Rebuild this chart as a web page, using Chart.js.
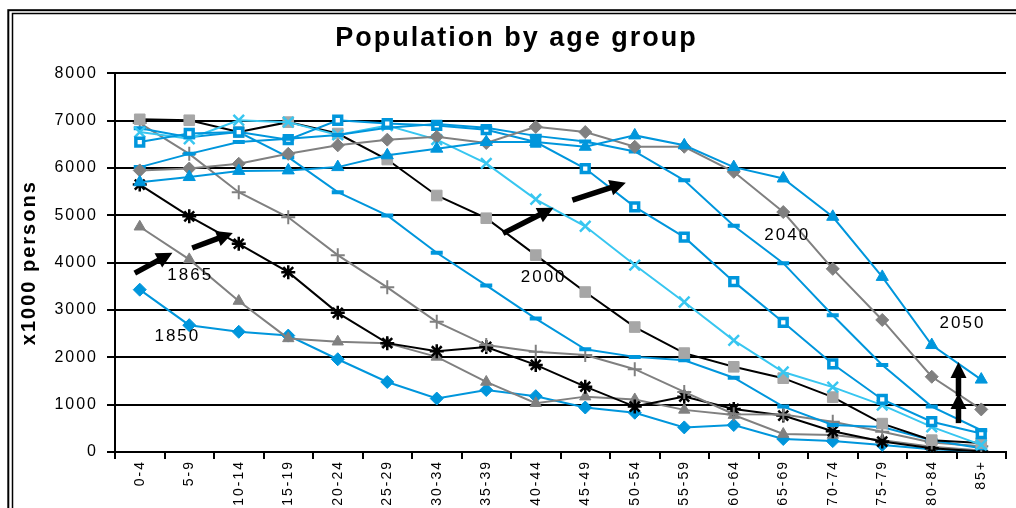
<!DOCTYPE html>
<html>
<head>
<meta charset="utf-8">
<script src="https://cdn.jsdelivr.net/npm/chart.js@4.4.1/dist/chart.umd.min.js"></script>
<style>
  html, body { margin: 0; padding: 0; background: #fff; }
  canvas { display: block; }
</style>
</head>
<body>
<canvas id="chart" width="1016" height="508"></canvas>
<script>
// Age groups on the horizontal axis
const ageGroups = ['0-4', '5-9', '10-14', '15-19', '20-24', '25-29', '30-34', '35-39', '40-44',
  '45-49', '50-54', '55-59', '60-64', '65-69', '70-74', '75-79', '80-84', '85+'];

// Population per age group, in thousands of persons
const pop1850 = [3430, 2680, 2540, 2460, 1960, 1480, 1130, 1310, 1180, 940, 830, 520, 570, 275, 230, 150, 60, 15];
const pop1865 = [4760, 4070, 3190, 2400, 2330, 2300, 2010, 1480, 1030, 1170, 1110, 890, 780, 380, 360, 250, 110, 30];
const pop1900 = [5650, 4980, 4400, 3800, 2940, 2300, 2130, 2220, 1840, 1380, 960, 1170, 910, 770, 440, 220, 80, 10];
const pop1950 = [6950, 6300, 5490, 4960, 4160, 3480, 2750, 2260, 2120, 2050, 1750, 1270, 800, 790, 640, 430, 200, 120];
const pop1975 = [6840, 6650, 6760, 6230, 5490, 5000, 4210, 3520, 2820, 2170, 2010, 1940, 1570, 960, 570, 530, 250, 80];
const pop2000 = [7030, 7010, 6760, 6970, 6730, 6180, 5420, 4940, 4160, 3380, 2640, 2090, 1800, 1560, 1160, 600, 250, 190];
const pop2010 = [6760, 6620, 7010, 6970, 6700, 6900, 6600, 6100, 5340, 4770, 3950, 3170, 2360, 1690, 1370, 990, 530, 150];
const pop2020 = [6550, 6730, 6760, 6600, 7010, 6940, 6900, 6810, 6550, 5990, 5180, 4540, 3600, 2740, 1860, 1110, 640, 390];
const pop2030 = [6020, 6300, 6550, 6620, 6700, 6850, 6930, 6850, 6680, 6560, 6350, 5740, 4780, 3990, 2890, 1840, 960, 460];
const pop2040 = [5950, 5990, 6090, 6300, 6480, 6600, 6660, 6530, 6870, 6760, 6450, 6450, 5920, 5070, 3870, 2790, 1590, 900];
const pop2050 = [5700, 5810, 5940, 5950, 6020, 6270, 6410, 6550, 6550, 6450, 6690, 6480, 6020, 5780, 4970, 3700, 2260, 1530];

// Value axis
const yMin = 0, yMax = 8000, yStep = 1000;

// Year labels written next to some curves: [text, age-group position, value]
const yearNotes = [
  ['1850', 0.76, 2450],
  ['1865', 1.02, 3740],
  ['2000', 8.16, 3690],
  ['2040', 13.08, 4580],
  ['2050', 16.62, 2720]
];

// Arrows showing the shift over time: [from position, from value, to position, to value]
const shiftArrows = [
  [-0.10, 3780, 0.66, 4210],
  [1.06, 4310, 1.88, 4630],
  [7.34, 4620, 8.36, 5160],
  [8.74, 5320, 9.82, 5690],
  [16.54, 610, 16.54, 1245],
  [16.54, 1180, 16.54, 1900]
];

const BLUE = '#0096dc';
const CYAN = '#38c6f0';
const GRAY = '#808080';
const LIGHT_GRAY = '#a6a6a6';
const BLACK = '#000000';

Chart.defaults.font.family = "'Liberation Sans', Arial, sans-serif";
Chart.defaults.color = '#000';

function line(label, data, color, style, extra) {
  return Object.assign({
    label: label,
    data: data,
    borderColor: color,
    backgroundColor: color,
    borderWidth: 2,
    tension: 0,
    pointStyle: style,
    pointRadius: 6,
    pointBorderWidth: 1,
    pointBorderColor: color,
    pointBackgroundColor: color
  }, extra || {});
}

const datasets = [
  line('1850', pop1850, BLUE, 'rectRot', { pointRadius: 6.5 }),
  line('1865', pop1865, GRAY, 'triangle', { pointRadius: 6.5 }),
  line('1900', pop1900, BLACK, 'star', { pointRadius: 7, pointBorderWidth: 2.5 }),
  line('1950', pop1950, GRAY, 'cross', { pointRadius: 7, pointBorderWidth: 2 }),
  line('1975', pop1975, BLUE, 'line', { pointRadius: 6, pointBorderWidth: 4 }),
  line('2000', pop2000, BLACK, 'rect', { pointRadius: 7.5, pointBorderColor: LIGHT_GRAY, pointBackgroundColor: LIGHT_GRAY }),
  line('2010', pop2010, CYAN, 'crossRot', { pointRadius: 7.5, pointBorderWidth: 2.5 }),
  line('2020', pop2020, BLUE, 'rect', { pointRadius: 5.5, pointBorderWidth: 3.5, pointBackgroundColor: '#ffffff' }),
  line('2030', pop2030, BLUE, 'line', { pointRadius: 6, pointBorderWidth: 4 }),
  line('2040', pop2040, GRAY, 'rectRot', { pointRadius: 6.5 }),
  line('2050', pop2050, BLUE, 'triangle', { pointRadius: 7 })
];
// later years are painted over earlier ones
datasets.forEach((d, i) => { d.order = datasets.length - i; });

// White page with the double frame; the text spacing is set for all drawn text
const framePlugin = {
  id: 'frame',
  beforeDraw(chart) {
    const ctx = chart.ctx;
    ctx.save();
    ctx.fillStyle = '#ffffff';
    ctx.fillRect(0, 0, chart.width, chart.height);
    ctx.strokeStyle = '#000';
    ctx.lineWidth = 2;
    ctx.strokeRect(8.3, 10.2, chart.width + 40, chart.height + 40);
    ctx.lineWidth = 1.5;
    ctx.strokeRect(12.5, 13.5, chart.width + 40, chart.height + 40);
    ctx.restore();
    ctx.letterSpacing = '2px';
  }
};

function drawArrow(ctx, x1, y1, x2, y2) {
  const ang = Math.atan2(y2 - y1, x2 - x1);
  const headLen = 16, headHalf = 8;
  const bx = x2 - headLen * Math.cos(ang);
  const by = y2 - headLen * Math.sin(ang);
  ctx.lineWidth = 5.5;
  ctx.lineCap = 'butt';
  ctx.beginPath();
  ctx.moveTo(x1, y1);
  ctx.lineTo(bx + 1 * Math.cos(ang), by + 1 * Math.sin(ang));
  ctx.stroke();
  ctx.beginPath();
  ctx.moveTo(x2, y2);
  ctx.lineTo(bx + headHalf * Math.sin(ang), by - headHalf * Math.cos(ang));
  ctx.lineTo(bx - headHalf * Math.sin(ang), by + headHalf * Math.cos(ang));
  ctx.closePath();
  ctx.fill();
}

// Year labels and shift arrows, placed through the chart scales
const notesPlugin = {
  id: 'notes',
  afterDatasetsDraw(chart) {
    const ctx = chart.ctx;
    const xs = chart.scales.x, ys = chart.scales.y;
    ctx.save();
    ctx.fillStyle = '#000';
    ctx.strokeStyle = '#000';
    shiftArrows.forEach(a => {
      drawArrow(ctx, xs.getPixelForValue(a[0]), ys.getPixelForValue(a[1]),
                     xs.getPixelForValue(a[2]), ys.getPixelForValue(a[3]));
    });
    ctx.font = "17px 'Liberation Sans', Arial, sans-serif";
    ctx.textAlign = 'center';
    ctx.textBaseline = 'middle';
    yearNotes.forEach(n => {
      ctx.fillText(n[0], xs.getPixelForValue(n[1]), ys.getPixelForValue(n[2]));
    });
    ctx.restore();
  }
};

new Chart(document.getElementById('chart'), {
  type: 'line',
  data: { labels: ageGroups, datasets: datasets },
  plugins: [framePlugin, notesPlugin],
  options: {
    responsive: false,
    animation: false,
    layout: { padding: { left: 20, right: 3, top: 0, bottom: 0 } },
    plugins: {
      legend: { display: false },
      tooltip: { enabled: false },
      title: {
        display: true,
        text: 'Population by age group',
        color: '#000',
        font: { size: 27, weight: 'bold' },
        padding: { top: 22, bottom: 19 }
      }
    },
    scales: {
      x: {
        type: 'category',
        offset: true,
        grid: { offset: true, drawOnChartArea: false, color: '#000', lineWidth: 2, tickLength: 7 },
        border: { color: '#000', width: 2 },
        ticks: { minRotation: 90, maxRotation: 90, autoSkip: false, color: '#000', font: { size: 14 }, padding: 1 },
        afterFit(scale) { scale.height = 56; }
      },
      y: {
        min: yMin,
        max: yMax,
        grid: { color: '#000', lineWidth: 2, tickLength: 8 },
        border: { color: '#000', width: 2 },
        ticks: {
          stepSize: yStep,
          color: '#000',
          font: { size: 16 },
          padding: 9,
          callback: (v) => String(v)
        },
        title: {
          display: true,
          text: 'x1000 persons',
          color: '#000',
          font: { size: 20, weight: 'bold', lineHeight: 0.9 },
          padding: { top: 0, bottom: 0 }
        },
        afterFit(scale) { scale.width = 95; }
      }
    }
  }
});
</script>
</body>
</html>
